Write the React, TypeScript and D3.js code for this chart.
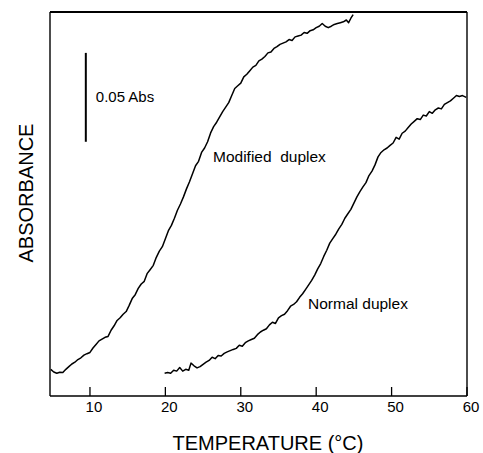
import React from "react";
import * as d3 from "d3";

// Temperature (°C) for the modified duplex trace
const modTemp = [4.8, 5.2, 5.6, 6.0, 6.4, 6.8, 7.2, 7.6, 8.0, 8.4, 8.8, 9.2, 9.6, 10.0, 10.4, 10.8, 11.2, 11.6, 12.0, 12.4, 12.8, 13.2, 13.6, 14.0, 14.4, 14.8, 15.2, 15.6, 16.0, 16.4, 16.8, 17.2, 17.6, 18.0, 18.4, 18.8, 19.2, 19.6, 20.0, 20.4, 20.8, 21.2, 21.6, 22.0, 22.4, 22.8, 23.2, 23.6, 24.0, 24.4, 24.8, 25.2, 25.6, 26.0, 26.4, 26.8, 27.2, 27.6, 28.0, 28.4, 28.8, 29.2, 29.6, 30.0, 30.4, 30.8, 31.2, 31.6, 32.0, 32.4, 32.8, 33.2, 33.6, 34.0, 34.4, 34.8, 35.2, 35.6, 36.0, 36.4, 36.8, 37.2, 37.6, 38.0, 38.4, 38.8, 39.2, 39.6, 40.0, 40.4, 40.8, 41.2, 41.6, 42.0, 42.4, 42.8, 43.2, 43.6, 44.0, 44.3, 44.6, 44.9];
// Absorbance (relative) for the modified duplex trace
const modAbs = [0.0150, 0.0135, 0.0128, 0.0134, 0.0132, 0.0150, 0.0165, 0.0180, 0.0190, 0.0205, 0.0215, 0.0230, 0.0238, 0.0245, 0.0270, 0.0290, 0.0310, 0.0320, 0.0330, 0.0335, 0.0370, 0.0395, 0.0425, 0.0440, 0.0460, 0.0475, 0.0510, 0.0548, 0.0570, 0.0605, 0.0630, 0.0645, 0.0690, 0.0712, 0.0735, 0.0780, 0.0815, 0.0840, 0.0885, 0.0930, 0.0960, 0.1000, 0.1045, 0.1080, 0.1120, 0.1165, 0.1205, 0.1250, 0.1295, 0.1320, 0.1370, 0.1395, 0.1430, 0.1480, 0.1515, 0.1540, 0.1570, 0.1600, 0.1625, 0.1650, 0.1690, 0.1730, 0.1745, 0.1760, 0.1795, 0.1810, 0.1830, 0.1850, 0.1860, 0.1885, 0.1895, 0.1910, 0.1930, 0.1935, 0.1955, 0.1965, 0.1978, 0.1985, 0.1992, 0.2005, 0.2000, 0.2020, 0.2025, 0.2030, 0.2045, 0.2040, 0.2055, 0.2060, 0.2072, 0.2080, 0.2095, 0.2080, 0.2072, 0.2080, 0.2090, 0.2095, 0.2100, 0.2105, 0.2115, 0.2100, 0.2125, 0.2145];

// Temperature (°C) for the normal duplex trace
const normTemp = [19.9, 20.3, 20.7, 21.1, 21.5, 21.9, 22.3, 22.7, 23.1, 23.4, 23.8, 24.2, 24.6, 25.0, 25.4, 25.8, 26.2, 26.6, 27.0, 27.4, 27.8, 28.2, 28.6, 29.0, 29.4, 29.8, 30.2, 30.6, 31.0, 31.4, 31.8, 32.2, 32.6, 33.0, 33.4, 33.8, 34.2, 34.6, 35.0, 35.4, 35.8, 36.2, 36.6, 37.0, 37.4, 37.8, 38.2, 38.6, 39.0, 39.4, 39.8, 40.2, 40.6, 41.0, 41.4, 41.8, 42.2, 42.6, 43.0, 43.4, 43.8, 44.2, 44.6, 45.0, 45.4, 45.8, 46.2, 46.6, 47.0, 47.4, 47.8, 48.2, 48.6, 49.0, 49.4, 49.8, 50.2, 50.6, 51.0, 51.4, 51.8, 52.2, 52.6, 53.0, 53.4, 53.8, 54.2, 54.6, 55.0, 55.4, 55.8, 56.2, 56.6, 57.0, 57.4, 57.8, 58.2, 58.6, 59.0, 59.4, 59.9];
// Absorbance (relative) for the normal duplex trace
const normAbs = [0.0128, 0.0132, 0.0128, 0.0145, 0.0140, 0.0160, 0.0140, 0.0150, 0.0145, 0.0185, 0.0170, 0.0158, 0.0165, 0.0178, 0.0190, 0.0200, 0.0218, 0.0210, 0.0228, 0.0225, 0.0240, 0.0248, 0.0255, 0.0262, 0.0268, 0.0285, 0.0280, 0.0300, 0.0310, 0.0318, 0.0325, 0.0345, 0.0360, 0.0370, 0.0378, 0.0400, 0.0415, 0.0408, 0.0440, 0.0452, 0.0460, 0.0480, 0.0505, 0.0515, 0.0530, 0.0555, 0.0575, 0.0600, 0.0625, 0.0650, 0.0680, 0.0715, 0.0745, 0.0785, 0.0820, 0.0860, 0.0885, 0.0910, 0.0940, 0.0965, 0.1000, 0.1025, 0.1050, 0.1085, 0.1120, 0.1150, 0.1176, 0.1200, 0.1240, 0.1265, 0.1300, 0.1345, 0.1370, 0.1385, 0.1395, 0.1410, 0.1423, 0.1455, 0.1445, 0.1478, 0.1490, 0.1510, 0.1530, 0.1545, 0.1560, 0.1555, 0.1580, 0.1575, 0.1600, 0.1590, 0.1610, 0.1620, 0.1615, 0.1640, 0.1650, 0.1660, 0.1675, 0.1690, 0.1685, 0.1690, 0.1680];

const xTicks = [10, 20, 30, 40, 50, 60];
const xDomain = [4.7, 60];
const yDomain = [0, 0.216];
const scaleBarAbs = [0.143, 0.193]; // 0.05 Abs reference bar
const scaleBarTemp = 9.45;

const labels = {
  scale: "0.05 Abs",
  modified: "Modified  duplex",
  normal: "Normal duplex",
  xTitle: "TEMPERATURE (°C)",
  yTitle: "ABSORBANCE",
};

const W = 483;
const H = 453;
const M = { left: 50, right: 16, top: 12, bottom: 57 };
const FONT = "'Liberation Sans', Arial, Helvetica, sans-serif";

export default function App() {
  const x = d3.scaleLinear().domain(xDomain).range([M.left, W - M.right]);
  const y = d3.scaleLinear().domain(yDomain).range([H - M.bottom, M.top]);
  const line = d3
    .line<[number, number]>()
    .x((d) => x(d[0]))
    .y((d) => y(d[1]));

  const mod: [number, number][] = modTemp.map((t, i) => [t, modAbs[i]]);
  const norm: [number, number][] = normTemp.map((t, i) => [t, normAbs[i]]);

  const x0 = M.left;
  const x1 = W - M.right;
  const yb = H - M.bottom;
  const yt = M.top;

  return (
    <svg
      width={W}
      height={H}
      style={{ position: "absolute", left: 0, top: 0, background: "#fff" }}
      fontFamily={FONT}
    >
      <rect x={0} y={0} width={W} height={H} fill="#fff" />
      {/* frame */}
      <line x1={x0} y1={yt} x2={x1} y2={yt} stroke="#000" strokeWidth={1.8} />
      <line x1={x0} y1={yb} x2={x1} y2={yb} stroke="#000" strokeWidth={1.6} />
      <line x1={x0} y1={yt} x2={x0} y2={yb} stroke="#000" strokeWidth={1.4} />
      <line x1={x1} y1={yt} x2={x1} y2={yb} stroke="#000" strokeWidth={1.4} />
      {/* ticks */}
      {xTicks.map((t) => (
        <g key={t}>
          <line x1={x(t)} x2={x(t)} y1={yb} y2={yb - 9} stroke="#000" strokeWidth={1.3} />
          <text x={x(t) + 4} y={yb + 16} fontSize={15} textAnchor="middle" fill="#000">
            {t}
          </text>
        </g>
      ))}
      {/* traces */}
      <path d={line(mod) || ""} fill="none" stroke="#000" strokeWidth={1.5} strokeLinejoin="round" />
      <path d={line(norm) || ""} fill="none" stroke="#000" strokeWidth={1.5} strokeLinejoin="round" />
      {/* scale bar */}
      <line
        x1={x(scaleBarTemp)}
        x2={x(scaleBarTemp)}
        y1={y(scaleBarAbs[0])}
        y2={y(scaleBarAbs[1])}
        stroke="#000"
        strokeWidth={2}
      />
      <text x={x(scaleBarTemp) + 10} y={y((scaleBarAbs[0] + scaleBarAbs[1]) / 2) + 5} fontSize={15} fill="#000">
        {labels.scale}
      </text>
      {/* annotations */}
      <text x={213} y={162} fontSize={15.5} fill="#000" style={{ whiteSpace: "pre" }}>
        {labels.modified}
      </text>
      <text x={308} y={309} fontSize={15.5} fill="#000">
        {labels.normal}
      </text>
      {/* axis titles */}
      <text x={268} y={450} fontSize={20} textAnchor="middle" fill="#000">
        {labels.xTitle}
      </text>
      <text
        transform={`translate(33,193) rotate(-90)`}
        fontSize={20}
        textAnchor="middle"
        fill="#000"
      >
        {labels.yTitle}
      </text>
    </svg>
  );
}
